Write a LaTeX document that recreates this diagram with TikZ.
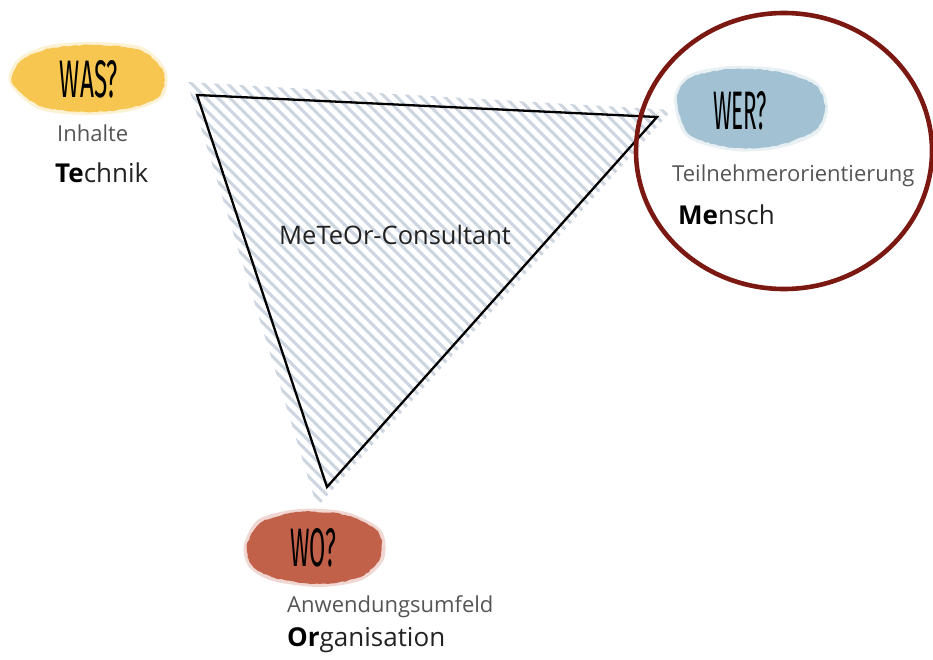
\documentclass[tikz,border=0pt]{standalone}
\usepackage{fontspec}
\setmainfont{Open Sans}
\newfontfamily\handfont{Fira Sans}
\usetikzlibrary{decorations.pathmorphing}
\definecolor{hatchc}{HTML}{CDD5E1}
\definecolor{wasc}{HTML}{F6C650}
\definecolor{werc}{HTML}{A2C2D3}
\definecolor{woc}{HTML}{C2614A}
\definecolor{ringc}{HTML}{7B1811}
\definecolor{graytxt}{HTML}{555555}
\definecolor{darktxt}{HTML}{222222}
\tikzset{
  hatch/.style={draw=hatchc, line width=3pt},
  blob/.style={decorate, decoration={random steps, segment length=3pt, amplitude=0.6pt}},
  halo/.style={opacity=0.25},
  sublab/.style={anchor=base west, inner sep=0pt, text=graytxt, font=\fontsize{22}{26}\selectfont},
  mainlab/.style={anchor=base west, inner sep=0pt, text=darktxt, font=\fontsize{26}{30}\selectfont},
  midlab/.style={anchor=base west, inner sep=0pt, text=darktxt, font=\fontsize{25.5}{30}\selectfont},
  hand/.style={inner sep=0pt, text=black},
  tri/.style={draw=black, line width=2.3pt, line join=miter},
  ring/.style={draw=ringc, line width=4.6pt}
}
\newcommand{\handtxt}[3]{\resizebox{#1pt}{#2pt}{\handfont #3}}
\begin{document}
\begin{tikzpicture}[x=1pt,y=-1pt]
\useasboundingbox (0,0) rectangle (933,660);
% hatched area
\begin{scope}
\clip (187,82) -- (672,110) -- (317,507) -- cycle;
\foreach \c in {-528,-516,...,700} \draw[hatch] (\c,0) -- ++(620,620);
\end{scope}
% triangle
\coordinate (ta) at (197,95);
\coordinate (tb) at (657,117);
\coordinate (tc) at (327,487);
\draw[tri] (ta) -- (tb) -- (tc) -- cycle;
% blobs
\fill[wasc, halo] plot[smooth cycle] coordinates {(9,82) (19,58) (50,45) (95,42) (142,47) (166,70) (163,97) (131,111) (85,115) (38,109)};
\fill[wasc, blob] plot[smooth cycle] coordinates {(12,82) (22,60) (52,48) (95,45) (140,50) (163,71) (160,95) (130,108) (85,112) (40,106)};
\fill[werc, halo] plot[smooth cycle] coordinates {(674,100) (688,75) (730,66) (782,69) (818,83) (828,108) (818,133) (781,148) (734,151) (687,137)};
\fill[werc, blob] plot[smooth cycle] coordinates {(677,100) (690,78) (731,69) (780,72) (815,85) (825,108) (815,130) (779,145) (735,148) (690,135)};
\fill[woc, halo] plot[smooth cycle] coordinates {(244,545) (259,519) (300,509) (346,512) (381,530) (384,559) (362,580) (320,587) (273,581) (249,567)};
\fill[woc, blob] plot[smooth cycle] coordinates {(247,545) (262,522) (300,512) (345,515) (378,532) (380,558) (360,577) (320,584) (275,578) (252,565)};
% hand-lettered questions
\node[hand] (was) at (89,79) {\handtxt{58}{37}{WAS?}};
\node[hand] (wer) at (740,111) {\handtxt{54}{38}{WER?}};
\node[hand] (wo) at (313,548) {\handtxt{46}{38}{WO?}};
% labels
\node[sublab] (inhalte) at (57,142) {Inhalte};
\node[mainlab] (technik) at (55,183) {\textbf{\color{black}Te}chnik};
\node[sublab] (teiln) at (672,182) {Teilnehmerorientierung};
\node[mainlab] (mensch) at (678,225) {\textbf{\color{black}Me}nsch};
\node[sublab] (anw) at (287,612) {Anwendungsumfeld};
\node[mainlab] (org) at (287,646) {\textbf{\color{black}Or}ganisation};
\node[midlab] (meteor) at (279,244) {MeTeOr-Consultant};
% ring
\draw[ring] (784,151) ellipse [x radius=148, y radius=138];
\end{tikzpicture}
\end{document}
